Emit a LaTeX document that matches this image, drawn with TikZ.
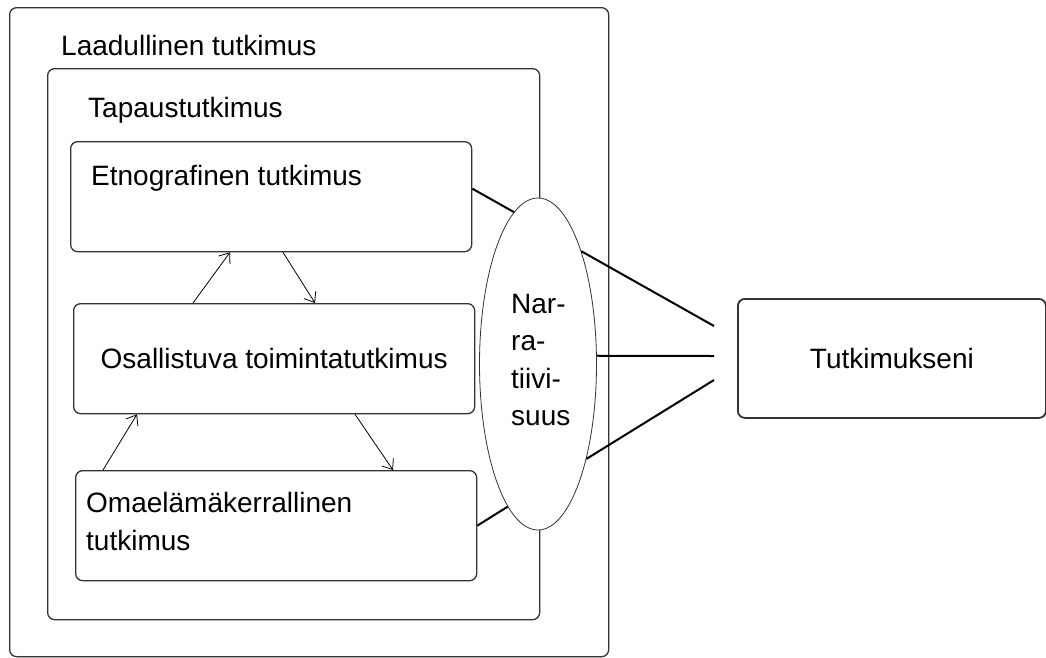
\documentclass[tikz,border=0pt]{standalone}
\usepackage{fontspec}
\setmainfont{Liberation Sans}
\usetikzlibrary{calc}
\usetikzlibrary{shapes.geometric}
\usetikzlibrary{arrows.meta}

\begin{document}
\begin{tikzpicture}[x=1pt, y=-1pt, font=\fontsize{28}{37.5}\selectfont,
    panel/.style={rectangle, rounded corners=7pt, draw=black!80, line width=1.3pt, anchor=north west, inner sep=0pt},
    txt/.style={anchor=base west, inner sep=0pt},
    link/.style={line width=2pt},
    flow/.style={-{Straight Barb[length=9pt, width=14pt]}, line width=0.8pt}]
    \useasboundingbox (0,0) rectangle (1046,657);

    % kehykset
    \node [panel, minimum width=599pt, minimum height=649pt] (laadullinen) at (9,7) {};
    \node [txt] (laadullinenteksti) at (61,55) {Laadullinen tutkimus};
    \node [panel, minimum width=492pt, minimum height=551pt] (tapaus) at (47,68) {};
    \node [txt] (tapausteksti) at (88,117) {Tapaustutkimus};

    % menetelmat
    \node [panel, minimum width=401pt, minimum height=110pt] (etno) at (70,141) {};
    \node [txt] (etnoteksti) at (91,185) {Etnografinen tutkimus};
    \node [panel, minimum width=401pt, minimum height=110pt] (osall) at (73,303) {Osallistuva toimintatutkimus};
    \node [panel, minimum width=401pt, minimum height=110pt] (omae) at (75,470) {};
    \node [txt, anchor=north west, align=left] (omaeteksti) at (86,492) {Omaelämäkerrallinen\\tutkimus};

    \node [ellipse, draw=black!80, line width=0.8pt, fill=white, minimum width=117pt, minimum height=332pt, inner sep=0pt] (narr) at (538,364) {};
    \node [txt, anchor=north west, align=left] (narrteksti) at (511,294) {Nar-\\ra-\\tiivi-\\suus};

    \node [panel, minimum width=308pt, minimum height=119pt, line width=1.8pt] (tutkimukseni) at (737,298) {Tutkimukseni};

    \coordinate (tulo1) at (714,326);
    \coordinate (tulo2) at (714,356);
    \coordinate (tulo3) at (714,380);

    \draw [link] ($(etno.east)+(0,-8)$) -- (narr.99);
    \draw [link] (omae.east) -- (narr.258);
    \draw [link] (narr.69) -- (tulo1);
    \draw [link] (narr.8) -- (tulo2);
    \draw [link] (narr.297) -- (tulo3);

    \draw [flow] ($(osall.north west)+(120,0)$) -- ($(etno.south west)+(160,0)$);
    \draw [flow] ($(etno.south west)+(213,0)$) -- ($(osall.north west)+(242,0)$);
    \draw [flow] ($(omae.north west)+(28,0)$) -- ($(osall.south west)+(64,0)$);
    \draw [flow] ($(osall.south west)+(282,0)$) -- ($(omae.north west)+(318,0)$);
\end{tikzpicture}
\end{document}
